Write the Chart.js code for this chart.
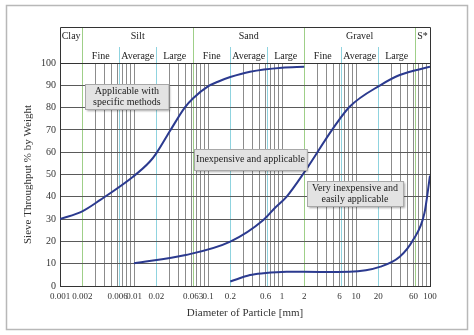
<!DOCTYPE html>
<html>
<head>
<meta charset="utf-8">
<title>Sieve curves</title>
<script src="https://cdn.jsdelivr.net/npm/chart.js@4.4.1/dist/chart.umd.min.js"></script>
<style>
  html, body { margin: 0; padding: 0; background: #fff; }
  #wrap { width: 474px; height: 335px; }
</style>
</head>
<body>
<div id="wrap"><canvas id="chart" width="474" height="335"></canvas></div>
<script>
// 曲线数据（粒径 mm / 通过率 %）
const fineX = [0.001, 0.002, 0.0035, 0.0097, 0.0163, 0.02, 0.0306, 0.0485, 0.063, 0.1, 0.136, 0.2, 0.37, 1.0, 2];
const fineY = [30, 33.5, 38.6, 49, 55.7, 59.5, 69.5, 80, 84.2, 89.5, 91.6, 93.7, 96.1, 97.9, 98.3];

const midX = [0.01, 0.05, 0.2, 0.56, 0.8, 1.15, 2, 4.9, 8.2, 21.5, 39, 100];
const midY = [10.2, 13.9, 19.9, 29.6, 35, 40, 51, 70.7, 80.4, 90.1, 94.6, 98.3];

const coarseX = [0.2, 0.37, 0.56, 1.15, 3.3, 8.2, 21.5, 39, 59, 84, 100];
const coarseY = [2, 4.9, 5.7, 6.4, 6.3, 6.4, 8.7, 13.1, 20.6, 32.6, 49.5];

// 坐标轴刻度
const xLabelValues = [0.001, 0.002, 0.006, 0.01, 0.02, 0.063, 0.1, 0.2, 0.6, 1, 2, 6, 10, 20, 60, 100];
const xLabelText = ['0.001', '0.002', '0.006', '0.01', '0.02', '0.063', '0.1', '0.2', '0.6', '1', '2', '6', '10', '20', '60', '100'];

// 土类分区
const soilGroups = ['Clay', 'Silt', 'Sand', 'Gravel', 'S*'];
const groupEdges = [0.001, 0.002, 0.063, 2, 63, 100];
const subGroups = ['Fine', 'Average', 'Large'];
const subBounds = [0.0063, 0.02, 0.2, 0.63, 6.3, 20];

// 说明框（文字与锚点）
const notes = [
  { lines: ['Applicable with', 'specific methods'], x: 0.008, y: 84.8 },
  { lines: ['Inexpensive and applicable'], x: 0.375, y: 56.7 },
  { lines: ['Very inexpensive and', 'easily applicable'], x: 9.7, y: 41.3 }
];

const GREEN = '#9fcf88';
const CYAN = '#8fd3df';
const GRAY = '#8c8c8c';
const DARK = '#333333';
const CURVE = '#2b3a8f';
const SERIF = '"Liberation Serif", "DejaVu Serif", serif';

const near = (a, b) => Math.abs(a - b) / b < 1e-6;

// 竖向网格：每个数量级的 1..9 倍，再加分区边界（去重）
function buildGridValues() {
  const vals = [];
  const add = (v) => { if (!vals.some(u => near(u, v))) vals.push(v); };
  for (let d = -3; d <= 1; d++) {
    for (let m = 1; m <= 9; m++) {
      add(parseFloat((m * Math.pow(10, d)).toPrecision(3)));
    }
  }
  add(100);
  subBounds.forEach(add);
  groupEdges.forEach(add);
  return vals.sort((a, b) => a - b);
}
const gridValues = buildGridValues();

function gridColor(ctx) {
  const v = ctx.tick ? ctx.tick.value : null;
  if (v === null) return GRAY;
  if (groupEdges.slice(1, -1).some(b => near(v, b))) return GREEN;
  if (subBounds.some(b => near(v, b))) return CYAN;
  if (near(v, 0.001) || near(v, 100)) return DARK;
  return GRAY;
}

function alignPx(p) {
  return Math.round(p - 0.5) + 0.5;
}

function toDataset(xs, ys) {
  return {
    data: xs.map((x, i) => ({ x: x, y: ys[i] })),
    borderColor: CURVE,
    borderWidth: 2,
    pointRadius: 0,
    fill: false,
    cubicInterpolationMode: 'monotone'
  };
}

// 表头、外框、说明框
const notePad = [8, 2, 5];
const sievePlugin = {
  id: 'sieveDecor',
  beforeDraw(chart) {
    const ctx = chart.ctx;
    ctx.save();
    ctx.fillStyle = '#fff';
    ctx.fillRect(0, 0, chart.width, chart.height);
    ctx.strokeStyle = '#b8b8b8';
    ctx.lineWidth = 1.5;
    ctx.strokeRect(6.5, 5.5, 461, 324);
    ctx.restore();
  },
  afterDatasetsDraw(chart) {
    const { ctx, scales: { x, y } } = chart;
    ctx.save();
    ctx.font = '10px ' + SERIF;
    ctx.textAlign = 'center';
    ctx.textBaseline = 'middle';
    notes.forEach((n, k) => {
      const cx = x.getPixelForValue(n.x);
      const cy = y.getPixelForValue(n.y);
      const w = Math.max(...n.lines.map(l => ctx.measureText(l).width)) + notePad[k] * 2;
      const h = Math.max(21, n.lines.length * 11 + 3);
      const bx = Math.round(cx - w / 2) + 0.5;
      const by = Math.round(cy - h / 2) + 0.5;
      ctx.shadowColor = 'rgba(0,0,0,0.35)';
      ctx.shadowBlur = 2;
      ctx.shadowOffsetX = 1;
      ctx.shadowOffsetY = 1;
      ctx.fillStyle = '#e3e3e3';
      ctx.fillRect(bx, by, w, h);
      ctx.shadowColor = 'transparent';
      ctx.strokeStyle = '#a8a8a8';
      ctx.lineWidth = 1;
      ctx.strokeRect(bx, by, w, h);
      ctx.fillStyle = '#222';
      const top = cy - (n.lines.length - 1) * 5.5;
      n.lines.forEach((l, i) => {
        ctx.fillText(l, cx, top + i * 11);
      });
    });
    ctx.restore();
  },
  afterDraw(chart) {
    const { ctx, chartArea: a, scales: { x } } = chart;
    const headTop = 27;
    const subTop = 47;
    ctx.save();
    ctx.lineWidth = 1;

    // 分区线延伸到表头
    ctx.strokeStyle = GREEN;
    groupEdges.slice(1, -1).forEach(v => {
      const px = alignPx(x.getPixelForValue(v));
      ctx.beginPath(); ctx.moveTo(px, headTop); ctx.lineTo(px, a.top); ctx.stroke();
    });
    ctx.strokeStyle = CYAN;
    subBounds.forEach(v => {
      const px = alignPx(x.getPixelForValue(v));
      ctx.beginPath(); ctx.moveTo(px, subTop); ctx.lineTo(px, a.top); ctx.stroke();
    });

    // 表头框和图区右、上边框
    ctx.strokeStyle = DARK;
    const l = alignPx(a.left), r = alignPx(a.right), t = alignPx(a.top);
    ctx.beginPath();
    ctx.moveTo(l, headTop + 0.5); ctx.lineTo(r, headTop + 0.5);
    ctx.moveTo(l, headTop + 0.5); ctx.lineTo(l, t);
    ctx.moveTo(r, headTop + 0.5); ctx.lineTo(r, a.bottom);
    ctx.moveTo(l, t); ctx.lineTo(r, t);
    ctx.stroke();

    // 文字
    ctx.fillStyle = '#222';
    ctx.font = '10px ' + SERIF;
    ctx.textAlign = 'center';
    ctx.textBaseline = 'middle';
    soilGroups.forEach((name, i) => {
      const x0 = x.getPixelForValue(groupEdges[i]);
      const x1 = x.getPixelForValue(groupEdges[i + 1]);
      ctx.fillText(name, (x0 + x1) / 2, 36);
    });
    for (let g = 1; g <= 3; g++) {
      const edges = [groupEdges[g], subBounds[2 * (g - 1)], subBounds[2 * (g - 1) + 1], groupEdges[g + 1]];
      subGroups.forEach((name, i) => {
        const x0 = x.getPixelForValue(edges[i]);
        const x1 = x.getPixelForValue(edges[i + 1]);
        ctx.fillText(name, (x0 + x1) / 2, 56);
      });
    }
    ctx.restore();
  }
};

new Chart(document.getElementById('chart'), {
  type: 'line',
  data: {
    datasets: [
      toDataset(fineX, fineY),
      toDataset(midX, midY),
      toDataset(coarseX, coarseY)
    ]
  },
  options: {
    responsive: false,
    animation: false,
    layout: { padding: { left: 0, right: 44, top: 63, bottom: 0 } },
    plugins: {
      legend: { display: false },
      tooltip: { enabled: false }
    },
    scales: {
      x: {
        type: 'logarithmic',
        min: 0.001,
        max: 100,
        afterBuildTicks: (scale) => {
          scale.ticks = gridValues.map(v => ({ value: v }));
        },
        afterFit: (scale) => { scale.height = 49; },
        ticks: {
          autoSkip: false,
          maxRotation: 0,
          padding: 5,
          color: '#333',
          font: { family: SERIF, size: 9 },
          callback: (value) => {
            const i = xLabelValues.findIndex(v => near(value, v));
            return i >= 0 ? xLabelText[i] : '';
          }
        },
        grid: {
          color: gridColor,
          lineWidth: 1,
          drawTicks: false
        },
        border: { display: true, color: DARK, width: 1 },
        title: {
          display: true,
          text: 'Diameter of Particle [mm]',
          color: '#333',
          font: { family: SERIF, size: 11 },
          padding: { top: 0, bottom: 15 }
        }
      },
      y: {
        min: 0,
        max: 100,
        afterFit: (scale) => { scale.width = 60; },
        ticks: {
          stepSize: 10,
          padding: 4,
          color: '#333',
          font: { family: SERIF, size: 10 }
        },
        grid: {
          color: '#5a5a5a',
          lineWidth: 1,
          drawTicks: false
        },
        border: { display: true, color: DARK, width: 1 },
        title: {
          display: true,
          text: 'Sieve Throughput % by Weight',
          color: '#333',
          font: { family: SERIF, size: 11 },
          padding: { top: 22, bottom: 0 }
        }
      }
    }
  },
  plugins: [sievePlugin]
});
</script>
</body>
</html>
